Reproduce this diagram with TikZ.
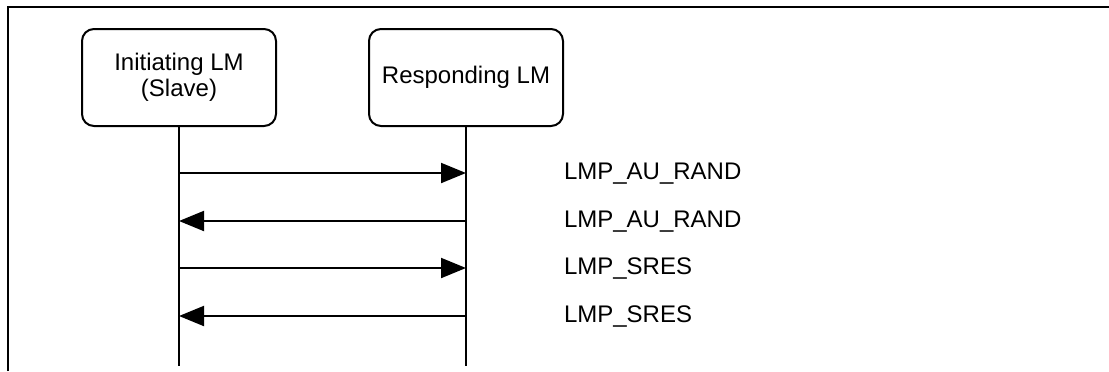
\documentclass[tikz,border=0pt]{standalone}
\usepackage{fontspec}
\setmainfont{Liberation Sans}
\usetikzlibrary{arrows.meta,positioning,calc}

\begin{document}
\begin{tikzpicture}[x=0.5pt,y=-0.5pt,line width=1pt,
  every node/.style={font=\fontsize{12}{13}\selectfont},
  lmbox/.style={draw,rounded corners=6pt,minimum width=97pt,minimum height=48.5pt,align=center,inner sep=0pt},
  msg/.style={-{Triangle[length=12.5pt,width=10pt]}}]
  \useasboundingbox (0,0) rectangle (1109,371);
  \draw (8,371) -- (8,7) -- (1109,7);
  \node[lmbox] (init) at (179,77.5) {Initiating LM\\(Slave)};
  \node[lmbox] (resp) at (466,77.5) {Responding LM};
  \coordinate (initend) at (init.south |- 0,366);
  \coordinate (respend) at (resp.south |- 0,366);
  \draw (init.south) -- (initend);
  \draw (resp.south) -- (respend);
  \foreach \y/\src/\dst/\txt in {173/init/resp/LMP\_AU\_RAND,221/resp/init/LMP\_AU\_RAND,268/init/resp/LMP\_SRES,316/resp/init/LMP\_SRES}{
    \coordinate (from\y) at (\src |- 0,\y);
    \coordinate (to\y) at (\dst |- 0,\y);
    \draw[msg] (from\y) -- (to\y);
    \node[anchor=base west,inner sep=0pt] (lbl\y) at (563,\y+6) {\txt};
  }
\end{tikzpicture}
\end{document}
